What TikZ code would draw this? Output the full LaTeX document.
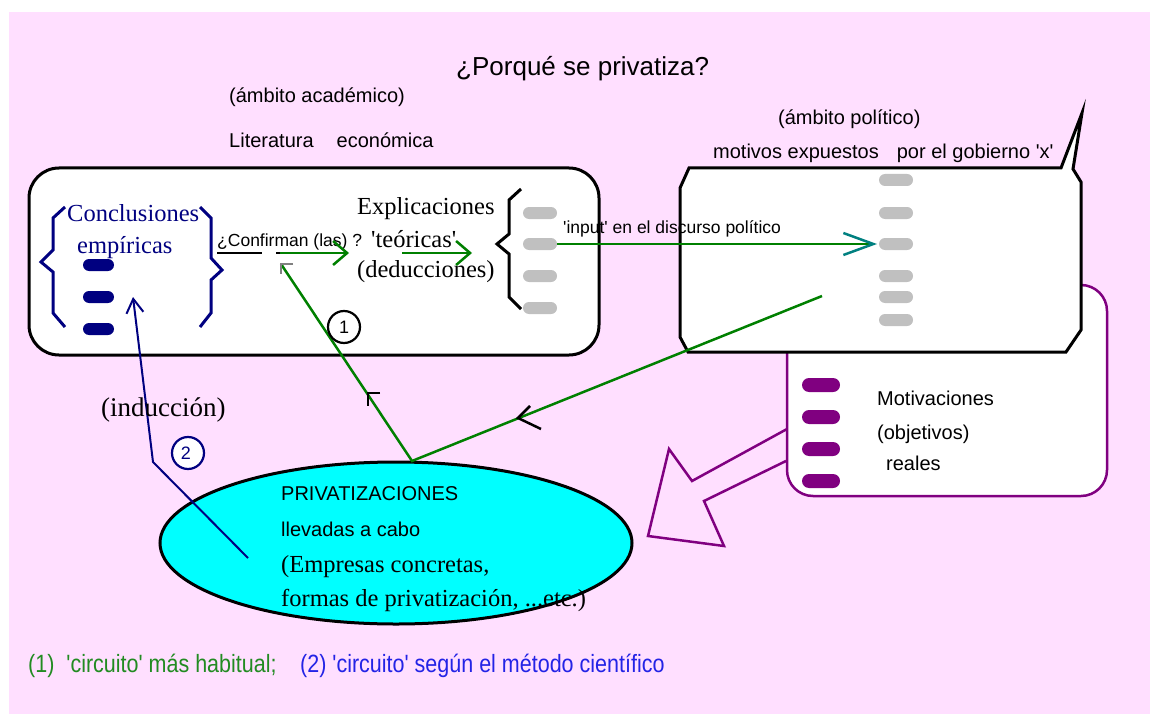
\documentclass[tikz,border=0pt]{standalone}
\usepackage{fontspec}
\usetikzlibrary{shapes.geometric,shapes.misc,arrows.meta}
\newfontfamily\arial{Liberation Sans}
\newfontfamily\tms{Liberation Serif}
\newfontfamily\narrow[FakeStretch=0.86]{Liberation Sans}
\definecolor{bgpink}{RGB}{255,223,255}
\definecolor{navyc}{RGB}{0,0,128}
\definecolor{greenc}{RGB}{0,128,0}
\definecolor{purplec}{RGB}{128,0,128}
\definecolor{greyc}{RGB}{192,192,192}
\definecolor{tealc}{RGB}{0,128,128}
\definecolor{cyanc}{RGB}{0,255,255}
\definecolor{leggreen}{RGB}{34,139,34}
\definecolor{legblue}{RGB}{35,35,230}
\tikzset{
 sans/.style={font=\arial\fontsize{#1}{#1}\selectfont, inner sep=0pt, anchor=base west},
 serif/.style={font=\tms\fontsize{#1}{#1}\selectfont, inner sep=0pt, anchor=base west},
 pill/.style={rounded rectangle, fill=#1, minimum width=34pt, minimum height=12pt, inner sep=0pt},
 box/.style={draw=black, line width=3pt, fill=white},
 gline/.style={draw=greenc, line width=2.5pt},
 brace/.style={line width=3pt, line join=miter},
 tickmark/.style={draw=black, line width=2.5pt},
 legend/.style={font=\narrow\fontsize{25}{25}\selectfont, inner sep=0pt, anchor=base west},
}
\begin{document}
\begin{tikzpicture}[x=1pt,y=-1pt]
\path[use as bounding box] (0,0) rectangle (1150,714);
\fill[white] (0,0) rectangle (1150,714);
\fill[bgpink] (9,12) rectangle (1150,714);

% boxes
\draw[box, rounded corners=30pt] (29,168) rectangle (599,355);
\draw[draw=purplec, line width=2.5pt, fill=white, rounded corners=26pt] (787,285) rectangle (1107,496);
\draw[box, line join=miter] (689,168) -- (1061,168) -- (1082,113) -- (1073,169) -- (1081,182) -- (1081,330) -- (1066,352) -- (688,352) -- (680,337) -- (680,188) -- cycle;

% header texts
\node[sans=26] (title) at (456,76) {¿Porqué se privatiza?};
\node[sans=20] (acad) at (229,103) {(ámbito académico)};
\node[sans=20] (lit) at (229,148) {Literatura\hspace{23pt}económica};
\node[sans=20] (pol) at (778,125) {(ámbito político)};
\node[sans=20] (mot) at (713,159) {motivos expuestos\hspace{18pt}por el gobierno 'x'};

% conclusiones
\draw[brace, navyc] (65,207) -- (53,218) -- (53,250) -- (41,262) -- (53,272) -- (53,313) -- (65,327);
\draw[brace, navyc] (200,207) -- (211,218) -- (211,258) -- (222,270) -- (211,280) -- (211,313) -- (200,327);
\node[serif=24.5, text=navyc] (concl) at (67,221) {Conclusiones};
\node[serif=24.5, text=navyc] (emp) at (77,253) {empíricas};
\node[pill=navyc, minimum width=31pt, minimum height=12pt] (np1) at (98.5,265) {};
\node[pill=navyc, minimum width=31pt, minimum height=12pt] (np2) at (98.5,297) {};
\node[pill=navyc, minimum width=31pt, minimum height=12pt] (np3) at (98.5,329) {};

% explicaciones
\node[sans=17.5] (conf) at (217,246) {¿Confirman (las) ?};
\draw[line width=1.2pt] (217,253) -- (262,253);
\draw[line width=1.2pt] (276,253) -- (282,253);
\node[serif=24.5] (expl) at (357,214) {Explicaciones};
\node[serif=24.5] (teo) at (371,247) {'teóricas'};
\node[serif=24.5] (ded) at (357,277) {(deducciones)};
\draw[brace, black] (521,189) -- (509,200) -- (509,234) -- (497,244) -- (509,254) -- (509,297) -- (521,309);
\node[pill=greyc] (gp1) at (540,213) {};
\node[pill=greyc] (gp2) at (540,244) {};
\node[pill=greyc] (gp3) at (540,276) {};
\node[pill=greyc] (gp4) at (540,308) {};

% political box pills
\node[pill=greyc] (rp1) at (896,180) {};
\node[pill=greyc] (rp2) at (896,213) {};
\node[pill=greyc] (rp3) at (896,244) {};
\node[pill=greyc] (rp4) at (896,276) {};
\node[pill=greyc] (rp5) at (896,297) {};
\node[pill=greyc] (rp6) at (896,320) {};

% motivaciones
\node[pill=purplec, minimum width=38pt, minimum height=14pt] (pp1) at (821,385) {};
\node[pill=purplec, minimum width=38pt, minimum height=14pt] (pp2) at (821,417) {};
\node[pill=purplec, minimum width=38pt, minimum height=14pt] (pp3) at (821,449) {};
\node[pill=purplec, minimum width=38pt, minimum height=14pt] (pp4) at (821,481) {};
\node[sans=20] (motv) at (877,405) {Motivaciones};
\node[sans=20] (obj) at (877,439) {(objetivos)};
\node[sans=20] (real) at (886,470) {reales};

% big hollow arrow
\draw[purplec, line width=2.5pt, line join=miter] (787,429) -- (692,481) -- (669,449) -- (648,536) -- (724,546) -- (704,501) -- (786,461);

% ellipse
\node[ellipse, draw=black, line width=3pt, fill=cyanc, minimum width=472pt, minimum height=162pt, inner sep=0pt] (ell) at (396,543) {};
\node[sans=20] (priv) at (281,500) {PRIVATIZACIONES};
\node[sans=20] (llev) at (281,536) {llevadas a cabo};
\node[serif=24.5] (empr) at (281,572) {(Empresas concretas,};
\node[serif=24.5] (form) at (281,606) {formas de privatización, ...etc.)};

% coordinates
\coordinate (etop) at (412,461);
\coordinate (pstart) at (822,296);
\coordinate (cend) at (281,264);
\coordinate (a1s) at (280,253);
\coordinate (a1e) at (349,253);
\coordinate (a2s) at (402,253);
\coordinate (a2e) at (472,253);
\coordinate (inE) at (877,244);
\coordinate (nstart) at (248,558);
\coordinate (nbend) at (153,462);
\coordinate (ntip) at (133,297);

% green arrows
\draw[gline, -{Straight Barb[length=14pt,width=24pt]}] (a1s) -- (a1e);
\draw[gline, -{Straight Barb[length=14pt,width=24pt]}] (a2s) -- (a2e);
\draw[gline, -{Straight Barb[length=30pt,width=22pt,color=tealc]}] (gp2.east) -- (inE);
\node[sans=17.5] (inp) at (563,233) {'input' en el discurso político};

% circuit 1
\draw[gline] (pstart) -- (etop) -- (cend);
\draw[tickmark] (530,406) -- (518,418) -- (541,429);
\draw[tickmark] (380,393) -- (368,393) -- (368,406);
\draw[draw=gray, line width=2.5pt] (293,264) -- (281,264) -- (281,274);
\node[circle, draw=black, line width=2.2pt, fill=white, minimum size=32pt, inner sep=0pt, font=\arial\fontsize{18}{18}\selectfont] (c1) at (344,327) {1};

% circuit 2
\draw[navyc, line width=2pt, -{Straight Barb[length=14pt,width=17pt]}] (nstart) -- (nbend) -- (ntip);
\node[serif=27] (ind) at (101,416) {(inducción)};
\node[circle, draw=navyc, line width=2.2pt, fill=white, minimum size=32pt, inner sep=0pt, text=navyc, font=\arial\fontsize{18}{18}\selectfont] (c2) at (188,453) {\raisebox{-3pt}{\hspace{-4pt}2}};

% legend
\node[legend, text=leggreen] (leg1) at (28,672) {(1)\ \ 'circuito' más habitual;};
\node[legend, text=legblue] (leg2) at (300,672) {(2) 'circuito' según el método científico};
\end{tikzpicture}
\end{document}
